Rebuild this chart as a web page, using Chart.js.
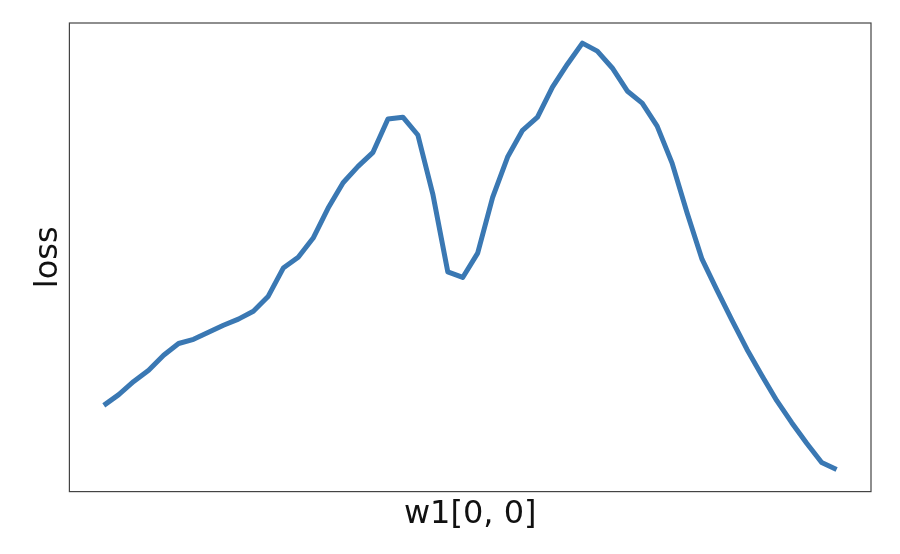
<!DOCTYPE html>
<html>
<head>
<meta charset="utf-8">
<script src="https://cdn.jsdelivr.net/npm/chart.js@4/dist/chart.umd.min.js"></script>
<style>
  html, body { margin: 0; padding: 0; background: #fff; }
  #wrap { width: 900px; height: 554px; }
</style>
</head>
<body>
<div id="wrap"><canvas id="myChart" width="900" height="554"></canvas></div>
<script>
// sample index along w1[0, 0]
const steps = [0, 1, 2, 3, 4, 5, 6, 7, 8, 9, 10, 11, 12, 13, 14, 15, 16, 17, 18, 19,
  20, 21, 22, 23, 24, 25, 26, 27, 28, 29, 30, 31, 32, 33, 34, 35, 36, 37, 38, 39,
  40, 41, 42, 43, 44, 45, 46, 47, 48, 49];

// loss (arbitrary units, axis has no ticks)
const loss = [18.4, 20.7, 23.5, 25.9, 29.1, 31.6, 32.5, 34.0, 35.5, 36.8,
  38.5, 41.7, 47.7, 50.0, 54.1, 60.5, 65.9, 69.4, 72.4, 79.5,
  79.9, 76.1, 63.5, 46.9, 45.7, 50.9, 62.8, 71.4, 77.1, 79.9,
  86.3, 91.2, 95.7, 94.0, 90.4, 85.5, 82.9, 78.0, 70.1, 59.5,
  49.6, 43.0, 36.6, 30.4, 24.8, 19.4, 14.7, 10.3, 6.2, 4.7];

const xLabel = 'w1[0, 0]';
const yLabel = 'loss';

// box around the plot area, like the matplotlib axes frame
const frame = {
  id: 'frame',
  afterDraw(chart) {
    const a = chart.chartArea;
    const ctx = chart.ctx;
    ctx.save();
    ctx.strokeStyle = '#444';
    ctx.lineWidth = 1.2;
    ctx.strokeRect(a.left, a.top, a.right - a.left, a.bottom - a.top);
    ctx.restore();
  }
};

const ctx = document.getElementById('myChart').getContext('2d');
new Chart(ctx, {
  type: 'line',
  data: {
    labels: steps,
    datasets: [{
      data: steps.map((s, i) => ({ x: s, y: loss[i] })),
      borderColor: '#3a78b3',
      borderWidth: 5,
      pointRadius: 0,
      tension: 0,
      borderJoinStyle: 'round',
      borderCapStyle: 'butt',
      fill: false
    }]
  },
  options: {
    responsive: false,
    animation: false,
    layout: { autoPadding: false, padding: { left: 0, top: 23, right: 29, bottom: 0 } },
    plugins: { legend: { display: false }, tooltip: { enabled: false } },
    scales: {
      x: {
        type: 'linear',
        min: -2.3,
        max: 51.3,
        ticks: { display: false },
        grid: { display: false, drawTicks: false },
        border: { display: false },
        title: {
          display: true,
          text: xLabel,
          color: '#111',
          font: { family: 'DejaVu Sans', size: 32 },
          padding: { top: 4, bottom: 20 }
        }
      },
      y: {
        min: 0,
        max: 100,
        ticks: { display: false },
        grid: { display: false, drawTicks: false },
        border: { display: false },
        title: {
          display: true,
          text: yLabel,
          color: '#111',
          font: { family: 'DejaVu Sans', size: 32 },
          padding: { top: 29, bottom: 2 }
        }
      }
    }
  },
  plugins: [frame]
});
</script>
</body>
</html>
